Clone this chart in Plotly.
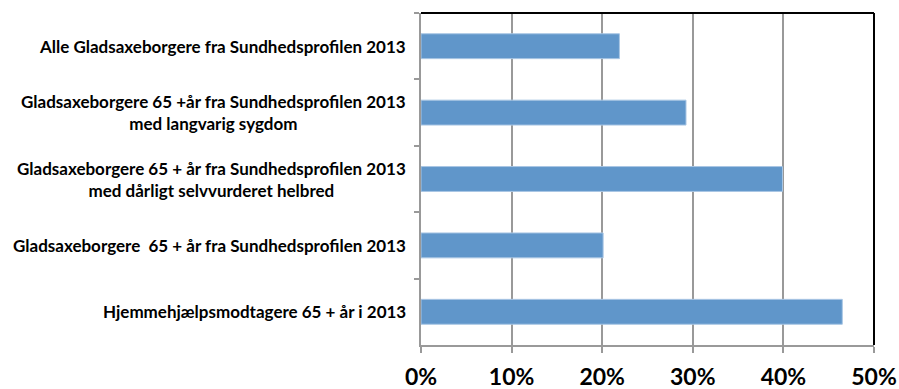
import plotly.graph_objects as go

categories = [
    "Alle Gladsaxeborgere fra Sundhedsprofilen 2013",
    "Gladsaxeborgere 65 +år fra Sundhedsprofilen 2013<br>med langvarig sygdom",
    "Gladsaxeborgere 65 + år fra Sundhedsprofilen 2013<br>med dårligt selvvurderet helbred",
    "Gladsaxeborgere  65 + år fra Sundhedsprofilen 2013",
    "Hjemmehjælpsmodtagere 65 + år i 2013",
]
values = [0.219, 0.2925, 0.399, 0.201, 0.465]
x_ticks = [0, 0.1, 0.2, 0.3, 0.4, 0.5]
x_tick_labels = ["0%", "10%", "20%", "30%", "40%", "50%"]

FONT = "Lato"

fig = go.Figure()
fig.add_trace(go.Bar(
    y=categories,
    x=values,
    orientation="h",
    width=0.375,
    marker=dict(color="#6096ca", line=dict(color="#a9c6e4", width=1)),
    hoverinfo="x+y",
))

annotations = []
for c in categories:
    annotations.append(dict(
        x=0, xref="paper", y=c, yref="y",
        text="<b>" + c.replace("<br>", "</b><br><b>") + "</b>",
        showarrow=False, xanchor="right", yanchor="middle",
        align="center", xshift=-13,
        font=dict(family=FONT, size=17, color="#000000"),
    ))

fig.update_layout(
    width=899, height=389,
    margin=dict(l=421, r=25, t=13, b=44, autoexpand=False),
    paper_bgcolor="white", plot_bgcolor="white",
    showlegend=False,
    annotations=annotations,
    font=dict(family=FONT, color="#000000"),
    shapes=[
        dict(type="line", xref="paper", yref="paper", x0=0, x1=1, y0=1, y1=1,
             line=dict(color="#000000", width=2)),
        dict(type="line", xref="paper", yref="paper", x0=1, x1=1, y0=0, y1=1,
             line=dict(color="#000000", width=2)),
    ],
)
fig.update_xaxes(
    range=[0, 0.5], automargin=False,
    tickvals=x_ticks, ticktext=["<b>%s</b>" % t for t in x_tick_labels],
    tickfont=dict(family=FONT, size=23, color="#000000"),
    ticklabelstandoff=4,
    showgrid=True, gridcolor="#999999", gridwidth=2,
    showline=True, linecolor="#999999", linewidth=2,
    ticks="outside", ticklen=6, tickcolor="#999999", tickwidth=2,
    zeroline=False,
)
fig.update_yaxes(
    autorange="reversed", automargin=False,
    showticklabels=False,
    tickson="boundaries",
    ticks="outside", ticklen=5, tickcolor="#999999", tickwidth=2,
    showgrid=False,
    showline=True, linecolor="#999999", linewidth=2,
)

fig.write_html("out.html")
